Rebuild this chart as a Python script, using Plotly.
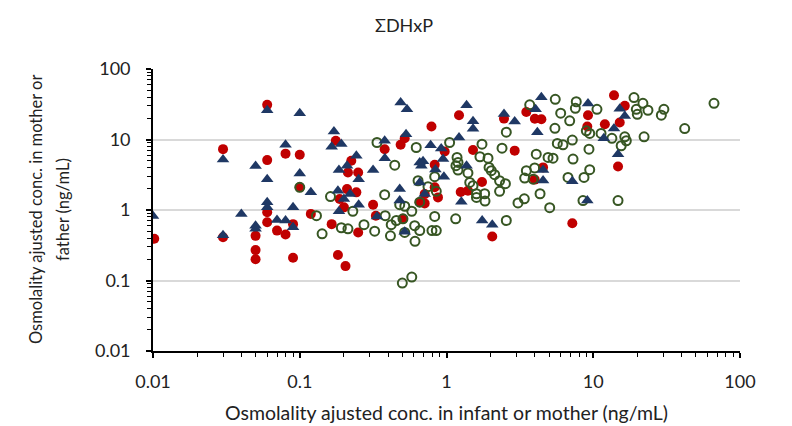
import plotly.graph_objects as go

# Blue triangles
blue_x = [0.01, 0.03, 0.03, 0.04, 0.05, 0.05, 0.05, 0.06, 0.06, 0.06, 0.06, 0.07, 0.08, 0.08, 0.09, 0.09,
          0.1, 0.1, 0.119, 0.171, 0.165, 0.192, 0.243, 0.21, 0.185, 0.252, 0.316, 0.182, 0.22, 0.2, 0.185,
          0.252, 0.336, 0.379, 0.38, 0.487, 0.538, 0.53, 0.48, 0.48, 0.519, 0.78, 0.92, 0.657, 0.692, 0.674,
          0.84, 0.947, 0.657, 0.96, 0.71, 1.217, 1.37, 1.516, 1.516, 1.37, 1.262, 1.75, 2.05, 2.465, 2.915,
          4.05, 4.43, 4.16, 4.55, 4.55, 7.2, 9.11, 9.21, 15.15, 16.4, 13.85, 11.8, 14.75]
blue_y = [0.82, 5.2, 0.44, 0.88, 4.2, 0.6, 0.54, 26, 2.74, 1.29, 1.09, 0.72, 0.71, 8.4, 1.09, 0.57,
          23.6, 3.3, 1.78, 13, 7.9, 8.6, 5.9, 4.25, 3.7, 2.74, 3.68, 1.88, 1.68, 1.43, 0.96,
          1.19, 0.81, 9.6, 5.44, 33.4, 26.8, 11.9, 1.98, 1.36, 0.49, 8.3, 7.46, 4.73, 4.9, 4.25,
          3.75, 5.27, 2.46, 2.97, 1.68, 10.7, 30.7, 18.2, 14.2, 4.25, 1.31, 0.71, 0.62, 23, 18,
          26.8, 39.7, 12.7, 3.68, 2.63, 2.55, 1.36, 32.3, 27.4, 21.6, 14.3, 10.4, 6.2]

# Red filled circles
red_x = [0.0102, 0.03, 0.03, 0.05, 0.05, 0.05, 0.06, 0.06, 0.06, 0.06, 0.07, 0.08, 0.08, 0.1, 0.09, 0.09,
         0.1, 0.119, 0.165, 0.182, 0.205, 0.25, 0.176, 0.2245, 0.213, 0.25, 0.21, 0.243, 0.187, 0.2,
         0.316, 0.33, 0.379, 0.519, 0.487, 0.505, 0.79, 0.972, 0.831, 0.71, 0.657, 0.71, 0.875, 1.217,
         1.516, 1.25, 1.4, 1.745, 0.831, 2.465, 2.915, 3.5, 4.0, 4.43, 4.55, 3.99, 2.05, 7.2, 13.85,
         16.4, 9.21, 9.11, 12, 15.15, 14.75]
red_y = [0.39, 7.3, 0.41, 0.43, 0.27, 0.2, 31, 5.1, 0.93, 0.67, 0.51, 0.45, 6.3, 6.08, 0.63, 0.21,
         2.1, 0.88, 0.63, 0.23, 0.16, 0.48, 9.6, 5.0, 3.41, 3.41, 1.98, 1.78, 1.43, 1.09,
         1.19, 0.83, 7.29, 10.4, 8.41, 0.75, 15.3, 6.77, 4.39, 1.68, 1.29, 1.24, 1.51, 22.1,
         7.1, 1.8, 1.88, 2.49, 2.1, 19.8, 6.95, 24.5, 19.7, 19.4, 4.02, 2.7, 0.42, 0.65, 42.3,
         30, 22.1, 15.3, 16.5, 17.4, 4.15]

# Green open circles
green_x = [0.1, 0.13, 0.162, 0.142, 0.192, 0.213, 0.23, 0.274, 0.324, 0.336, 0.379, 0.382, 0.415, 0.42,
           0.444, 0.455, 0.48, 0.52, 0.5, 0.58, 0.505, 0.519, 0.58, 0.607, 0.657, 0.61, 0.622, 0.64,
           0.657, 0.748, 0.831, 0.852, 0.831, 0.796, 0.852, 1.05, 1.18, 1.198, 1.16, 1.198, 1.4, 1.155,
           1.745, 1.69, 1.918, 1.95, 2.02, 2.13, 2.3, 2.52, 1.44, 1.516, 1.6, 1.82, 1.6, 1.83, 2.3,
           2.39, 2.556, 3.07, 3.39, 3.5, 3.99, 3.41, 4.09, 4.34, 3.69, 2.556, 5.05, 4.92, 5.32, 5.69,
           6.22, 7.2, 7.28, 5.48, 6.91, 5.51, 6.0, 7.66, 7.55, 6.73, 8.65, 9.46, 9.35, 8.51, 14.75,
           8.97, 9.46, 11.3, 13.4, 16.4, 16.8, 15.5, 22.2, 10.6, 18.95, 21.8, 19.65, 19.96, 23.6,
           29.1, 30.3, 66.5, 42, 3.89]
green_y = [2.1, 0.83, 1.55, 0.46, 0.56, 0.54, 0.96, 0.62, 0.5, 9.07, 1.65, 0.83, 0.43, 0.62,
           4.33, 0.71, 1.19, 1.13, 0.092, 0.112, 0.75, 0.48, 0.96, 0.6, 0.51, 0.36, 7.7, 2.6,
           1.29, 2.14, 2.97, 1.84, 0.81, 0.51, 0.51, 9.07, 5.56, 4.73, 4.25, 3.68, 3.35, 0.75,
           8.58, 5.69, 5.44, 4.02, 3.61, 3.17, 2.6, 2.36, 2.46, 2.21, 1.7, 1.7, 1.51, 1.34, 1.84,
           7.53, 12.7, 1.26, 1.44, 3.61, 3.95, 2.84, 6.2, 1.7, 31, 0.71, 1.08, 5.56, 5.44, 8.78,
           8.41, 9.8, 5.27, 14.4, 18.4, 37.2, 23.6, 34.3, 27.7, 2.9, 2.9, 3.73, 7.29, 1.36, 1.36,
           13.3, 12.2, 12.2, 10.4, 10.9, 9.6, 8.15, 10.9, 26.8, 39.3, 32.6, 26.8, 22.8, 26,
           22.1, 26.8, 32.6, 14.3, 2.74]

tick_vals = [0.01, 0.1, 1, 10, 100]
tick_text = ["0.01", "0.1", "1", "10", "100"]
decades = [0.01, 0.1, 1, 10]
minor_vals = [d * m for d in decades for m in range(2, 10)]

RED = "#C00000"
BLUE = "#1F3864"
GREEN = "#375623"
FONT = "Lato"
TXT = "#222222"

fig = go.Figure()
fig.add_trace(go.Scatter(x=red_x, y=red_y, mode="markers",
                         marker=dict(symbol="circle", size=10, color=RED), name="red"))
fig.add_trace(go.Scatter(x=green_x, y=green_y, mode="markers",
                         marker=dict(symbol="circle-open", size=9, color=GREEN,
                                     line=dict(width=2, color=GREEN)), name="green"))
fig.add_trace(go.Scatter(x=blue_x, y=blue_y, mode="markers",
                         marker=dict(symbol="triangle-up", size=11, color=BLUE), name="blue"))

axis_common = dict(
    type="log", range=[-2, 2], tickvals=tick_vals, ticktext=tick_text,
    showline=True, linecolor="black", linewidth=1.75,
    ticks="outside", ticklen=5, tickwidth=1.5, tickcolor="black",
    minor=dict(tickmode="array", tickvals=minor_vals, ticks="outside", ticklen=4,
               tickwidth=1, tickcolor="black", showgrid=False),
    tickfont=dict(family=FONT, size=18, color=TXT),
    zeroline=False,
)

fig.update_xaxes(**axis_common, showgrid=False, ticklabelstandoff=9)
fig.update_yaxes(**axis_common, showgrid=True, gridcolor="#D9D9D9", gridwidth=1.5,
                 ticklabelstandoff=12)

fig.update_layout(
    width=792, height=426,
    margin=dict(l=145, r=60, t=61, b=83),
    paper_bgcolor="white", plot_bgcolor="white",
    showlegend=False,
    title=dict(text="ΣDHxP", x=0.5, xanchor="center", y=0.958, yanchor="middle",
               font=dict(family=FONT, size=18, color=TXT)),
    annotations=[
        dict(text="Osmolality ajusted conc. in infant or mother (ng/mL)", xref="paper", yref="paper",
             x=0.5, y=-0.218, xanchor="center", yanchor="middle", showarrow=False,
             font=dict(family=FONT, size=19.5, color=TXT)),
        dict(text="Osmolality ajusted conc. in mother or", xref="paper", yref="paper",
             x=-0.1993, y=0.5, xanchor="center", yanchor="middle", showarrow=False, textangle=-90,
             font=dict(family=FONT, size=16.5, color=TXT)),
        dict(text="father (ng/mL)", xref="paper", yref="paper",
             x=-0.1533, y=0.5, xanchor="center", yanchor="middle", showarrow=False, textangle=-90,
             font=dict(family=FONT, size=16.5, color=TXT)),
    ],
)

fig.write_html("out.html")
